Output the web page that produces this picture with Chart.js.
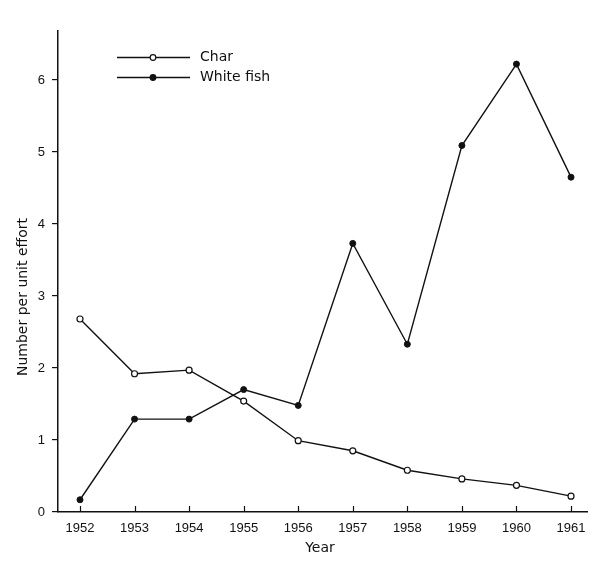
<!DOCTYPE html>
<html>
<head>
<meta charset="utf-8">
<script src="https://cdn.jsdelivr.net/npm/chart.js@4/dist/chart.umd.min.js"></script>
<style>
  html, body { margin: 0; padding: 0; background: #fff; }
  #wrap { width: 600px; height: 566px; }
</style>
</head>
<body>
<div id="wrap"><canvas id="c" width="600" height="566"></canvas></div>
<script>
const years = [1952, 1953, 1954, 1955, 1956, 1957, 1958, 1959, 1960, 1961];
const charValues = [2.68, 1.92, 1.97, 1.54, 0.99, 0.85, 0.58, 0.46, 0.37, 0.22];
const whitefishValues = [0.17, 1.29, 1.29, 1.70, 1.48, 3.73, 2.33, 5.09, 6.22, 4.65];
const yTicks = [0, 1, 2, 3, 4, 5, 6];
const seriesNames = ['Char', 'White fish'];
const xTitle = 'Year';
const yTitle = 'Number per unit effort';

const INK = '#111';

const toPoints = vals => years.map((y, i) => ({ x: y, y: vals[i] }));

const customPlugin = {
  id: 'custom',
  afterDraw(chart) {
    const ctx = chart.ctx;
    const xs = chart.scales.x;
    const ys = chart.scales.y;
    ctx.save();
    // inside tick marks on x axis
    ctx.strokeStyle = INK;
    ctx.lineWidth = 1.2;
    years.forEach(yr => {
      const px = Math.round(xs.getPixelForValue(yr)) + 0.5;
      ctx.beginPath();
      ctx.moveTo(px, ys.bottom);
      ctx.lineTo(px, ys.bottom - 6);
      ctx.stroke();
    });
    // legend
    const legendY = [57, 77];
    const filled = [false, true];
    ctx.font = '14px "DejaVu Sans"';
    ctx.textBaseline = 'middle';
    ctx.textAlign = 'left';
    ctx.fillStyle = INK;
    seriesNames.forEach((name, i) => {
      const y = legendY[i] + 0.5;
      ctx.lineWidth = 1.3;
      ctx.beginPath();
      ctx.moveTo(117, y);
      ctx.lineTo(190, y);
      ctx.stroke();
      ctx.beginPath();
      ctx.arc(153, y, 2.8, 0, Math.PI * 2);
      ctx.fillStyle = filled[i] ? INK : '#fff';
      ctx.fill();
      ctx.lineWidth = 1.2;
      ctx.stroke();
      ctx.fillStyle = INK;
      ctx.fillText(name, 200, legendY[i]);
    });
    // axis titles
    ctx.font = '14px "DejaVu Sans"';
    ctx.textAlign = 'center';
    ctx.textBaseline = 'middle';
    ctx.fillText(xTitle, 320, 548);
    ctx.translate(23, 297);
    ctx.rotate(-Math.PI / 2);
    ctx.fillText(yTitle, 0, 0);
    ctx.restore();
  }
};

new Chart(document.getElementById('c'), {
  type: 'line',
  data: {
    datasets: [
      {
        label: seriesNames[0],
        data: toPoints(charValues),
        borderColor: INK,
        borderWidth: 1.4,
        tension: 0,
        pointRadius: 3,
        pointBorderWidth: 1.2,
        pointBackgroundColor: '#fff',
        pointBorderColor: INK
      },
      {
        label: seriesNames[1],
        data: toPoints(whitefishValues),
        borderColor: INK,
        borderWidth: 1.4,
        tension: 0,
        pointRadius: 3,
        pointBorderWidth: 1,
        pointBackgroundColor: INK,
        pointBorderColor: INK
      }
    ]
  },
  options: {
    responsive: false,
    animation: false,
    events: [],
    layout: { padding: { left: 0, right: 13, top: 31, bottom: 0 } },
    plugins: { legend: { display: false }, tooltip: { enabled: false } },
    scales: {
      x: {
        type: 'linear',
        min: 1951.597,
        max: 1961.293,
        afterFit(scale) { scale.height = 54; },
        afterBuildTicks(scale) { scale.ticks = years.map(v => ({ value: v })); },
        border: { display: true, color: INK, width: 1.5 },
        grid: { display: true, drawOnChartArea: false, drawTicks: false },
        ticks: {
          padding: 9,
          color: INK,
          font: { family: 'Liberation Sans', size: 13 },
          maxRotation: 0,
          autoSkip: false,
          callback: v => String(v)
        }
      },
      y: {
        type: 'linear',
        min: 0,
        max: 6.68,
        afterFit(scale) { scale.width = 58; },
        afterBuildTicks(scale) { scale.ticks = yTicks.map(v => ({ value: v })); },
        border: { display: true, color: INK, width: 1.5 },
        grid: { display: true, drawOnChartArea: false, drawTicks: true, tickLength: 6, color: INK, lineWidth: 1.2 },
        ticks: {
          padding: 7,
          color: INK,
          font: { family: 'Liberation Sans', size: 13 },
          callback: v => String(v)
        }
      }
    }
  },
  plugins: [customPlugin]
});
</script>
</body>
</html>
